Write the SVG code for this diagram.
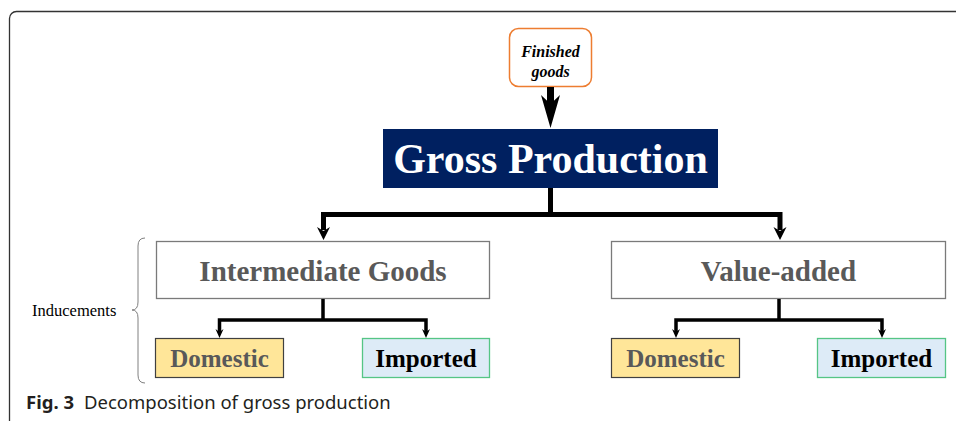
<svg xmlns="http://www.w3.org/2000/svg" width="956" height="421" viewBox="0 0 956 421">
<style>
.serif{font-family:"Liberation Serif","Times New Roman",serif;font-weight:bold;text-anchor:middle}
.box{fill:#fff;stroke:#7a7a7a;stroke-width:1.3}
.dom{fill:#FFE699;stroke:#404040;stroke-width:1.2}
.imp{fill:#DDEBF7;stroke:#55C585;stroke-width:1.3}
.gray{fill:#595959}
.line{fill:none;stroke:#000;stroke-linejoin:miter}
.head{fill:#000}
.cap{font-family:"Noto Sans","Open Sans",sans-serif;fill:#231f20}
</style>
<rect x="9.5" y="11.5" width="1000" height="416" rx="7" fill="none" stroke="#333" stroke-width="1.3"/>
<g id="finished-goods">
<rect x="509.5" y="28.5" width="82" height="58" rx="9" fill="#fff" stroke="#ED7D31" stroke-width="1.5"/>
<text class="serif" x="550.5" y="57" font-size="16" font-style="italic">Finished</text>
<text class="serif" x="550.5" y="77" font-size="16" font-style="italic">goods</text>
</g>
<g id="gross-production">
<rect x="383" y="129" width="335" height="59" fill="#002060"/>
<text class="serif" x="550.5" y="173" font-size="42" fill="#fff">Gross Production</text>
</g>
<g id="intermediate-goods">
<rect class="box" x="156.5" y="241.5" width="333" height="57"/>
<text class="serif gray" x="323" y="281" font-size="29">Intermediate Goods</text>
</g>
<g id="value-added">
<rect class="box" x="611.5" y="241.5" width="334" height="57"/>
<text class="serif gray" x="778.5" y="281" font-size="29">Value-added</text>
</g>
<g id="domestic-1">
<rect class="dom" x="155.5" y="338.5" width="128" height="39"/>
<text class="serif gray" x="219.5" y="367" font-size="25">Domestic</text>
</g>
<g id="imported-1">
<rect class="imp" x="362.5" y="338.5" width="127" height="39"/>
<text class="serif" x="426" y="367" font-size="25" fill="#000">Imported</text>
</g>
<g id="domestic-2">
<rect class="dom" x="611.5" y="338.5" width="128" height="39"/>
<text class="serif gray" x="675.5" y="367" font-size="25">Domestic</text>
</g>
<g id="imported-2">
<rect class="imp" x="817.5" y="338.5" width="128" height="39"/>
<text class="serif" x="881.5" y="367" font-size="25" fill="#000">Imported</text>
</g>
<g id="inducements">
<path d="M145,238 Q138,238 138,246 V302 Q138,310 132,310 Q138,310 138,318 V375 Q138,383 145,383" fill="none" stroke="#808080" stroke-width="1"/>
<text x="32" y="316" font-family="Liberation Serif,serif" font-size="16.5" fill="#000">Inducements</text>
</g>
<g id="connectors">
<path class="line" d="M550.5,87 V106" stroke-width="7"/>
<polygon class="head" points="550.5,128 541,95 550.5,104 560,95"/>
<path class="line" d="M550.5,188 V214.5 M323.5,230 V214.5 H780 V230" stroke-width="5"/>
<polygon class="head" points="323.5,240 317,227 323.5,231 330,227"/>
<polygon class="head" points="780,240 773.5,227 780,231 786.5,227"/>
<path class="line" d="M323,299 V320 M219.5,332 V320 H426 V332" stroke-width="3.5"/>
<path class="line" d="M779,299 V320 M676,332 V320 H882 V332" stroke-width="3.5"/>
<polygon class="head" points="219.5,338 215.5,329 219.5,332 223.5,329"/>
<polygon class="head" points="426,338 422,329 426,332 430,329"/>
<polygon class="head" points="676,338 672,329 676,332 680,329"/>
<polygon class="head" points="882,338 878,329 882,332 886,329"/>
</g>
<text class="cap" x="26" y="409" font-size="18.5"><tspan font-weight="bold">Fig. 3</tspan><tspan dx="10">Decomposition of gross production</tspan></text>
</svg>
